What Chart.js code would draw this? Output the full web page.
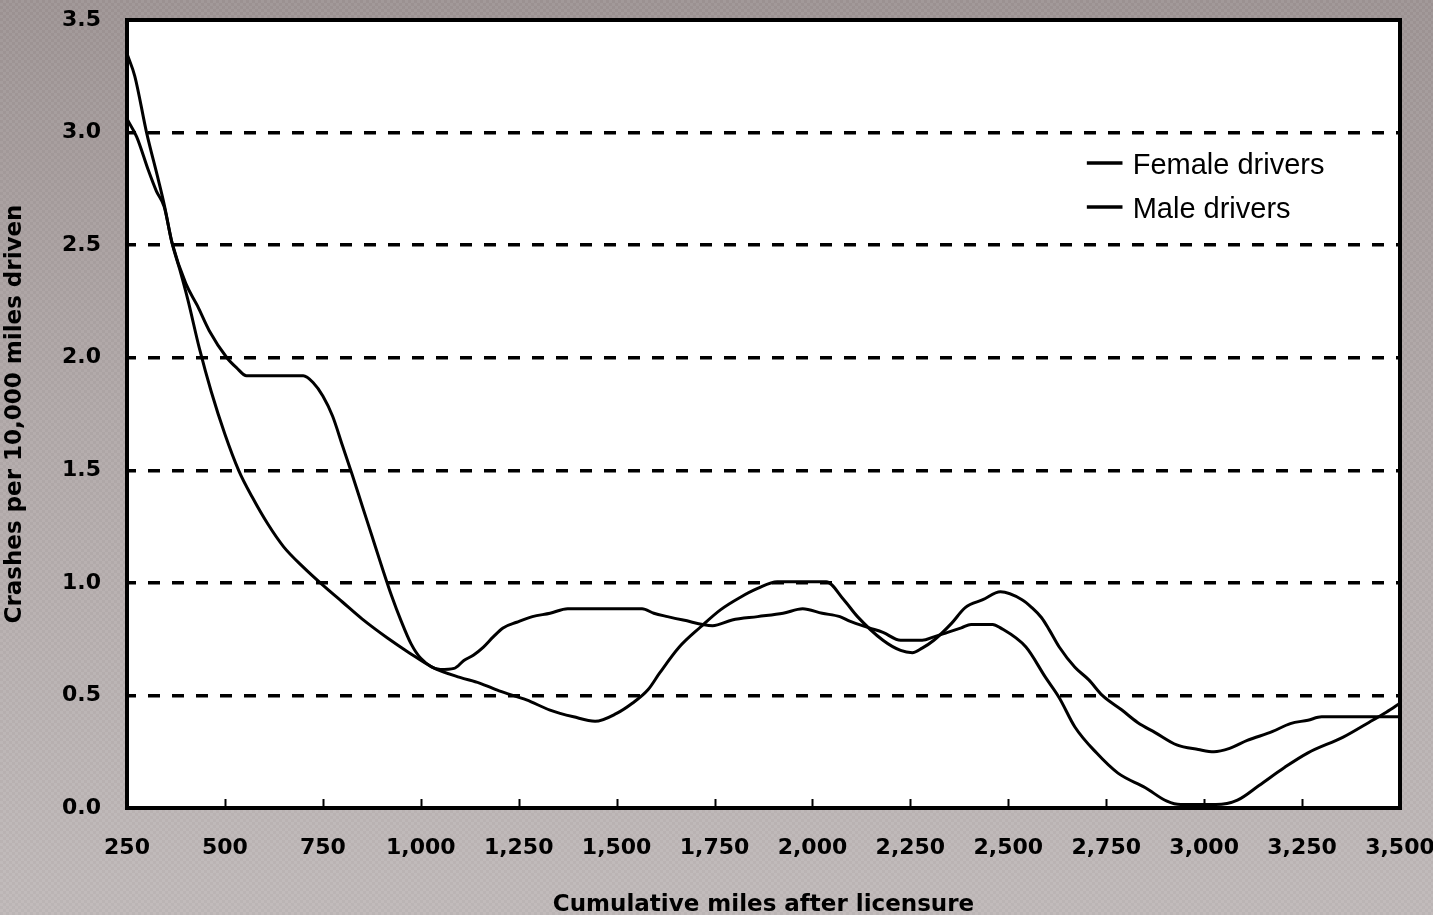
<!DOCTYPE html>
<html>
<head>
<meta charset="utf-8">
<script src="https://cdn.jsdelivr.net/npm/chart.js@4.4.1/dist/chart.umd.min.js"></script>
<style>
html,body{margin:0;padding:0;}
body{
  width:1433px;height:915px;overflow:hidden;
  background:
    repeating-conic-gradient(rgba(255,255,255,0.035) 0 25%, rgba(0,0,0,0.025) 0 50%) 0 0/6px 6px,
    linear-gradient(#9f9595 0%, #b1a9a9 45%, #c0b9b9 100%);
}
canvas{display:block;}
</style>
</head>
<body>
<canvas id="c" width="1433" height="915"></canvas>
<script>
// ---- data ----
const xTickLabels = ['250','500','750','1,000','1,250','1,500','1,750','2,000','2,250','2,500','2,750','3,000','3,250','3,500'];
const yTickLabels = ['0.0','0.5','1.0','1.5','2.0','2.5','3.0','3.5'];

const femaleLabel = 'Female drivers';
const femaleMiles = [250,270,300,330,345,365,385,405,435,465,500,535,570,610,650,700,750,800,850,915,970,1030,1100,1150,1200,1270,1330,1390,1445,1500,1540,1580,1610,1660,1715,1765,1815,1860,1910,2035,2080,2115,2180,2225,2255,2280,2310,2355,2390,2435,2480,2535,2560,2585,2605,2630,2670,2705,2740,2790,2830,2875,2930,2985,3025,3065,3110,3175,3220,3265,3300,3500];
const femaleRate  = [3.35,3.25,3.00,2.79,2.68,2.51,2.39,2.26,2.04,1.85,1.66,1.50,1.38,1.26,1.16,1.07,0.99,0.915,0.84,0.755,0.69,0.625,0.58,0.555,0.52,0.48,0.435,0.405,0.385,0.42,0.465,0.525,0.60,0.715,0.805,0.88,0.935,0.975,1.005,1.005,0.925,0.85,0.745,0.70,0.69,0.71,0.745,0.82,0.89,0.925,0.96,0.925,0.89,0.845,0.79,0.715,0.625,0.57,0.50,0.435,0.38,0.335,0.28,0.26,0.25,0.265,0.30,0.34,0.375,0.39,0.405,0.405];

const maleLabel = 'Male drivers';
const maleMiles = [250,275,305,325,345,365,400,430,460,505,530,555,700,725,750,775,800,825,850,875,900,925,950,975,1000,1050,1085,1110,1135,1160,1185,1210,1245,1285,1330,1375,1565,1595,1630,1670,1745,1795,1860,1925,1975,2025,2070,2095,2145,2180,2225,2280,2310,2345,2380,2405,2460,2480,2545,2595,2630,2670,2725,2780,2850,2905,2940,3030,3085,3140,3205,3265,3355,3430,3465,3500];
const maleRate  = [3.06,2.98,2.83,2.74,2.67,2.51,2.33,2.23,2.12,2.00,1.955,1.92,1.92,1.89,1.83,1.74,1.61,1.48,1.345,1.21,1.075,0.945,0.83,0.73,0.665,0.615,0.62,0.655,0.68,0.715,0.76,0.80,0.825,0.85,0.865,0.885,0.885,0.865,0.85,0.835,0.81,0.835,0.85,0.865,0.885,0.865,0.85,0.83,0.80,0.78,0.745,0.745,0.76,0.78,0.80,0.815,0.815,0.80,0.715,0.58,0.49,0.36,0.245,0.155,0.09,0.03,0.015,0.015,0.035,0.10,0.18,0.245,0.315,0.39,0.425,0.465];

const xTitle = 'Cumulative miles after licensure';
const yTitle = 'Crashes per 10,000 miles driven';

// ---- chart ----
const toPoints = (xs, ys) => xs.map((x, i) => ({x, y: ys[i]}));

const framePlugin = {
  id: 'frame',
  beforeDraw(chart) {
    const {ctx, chartArea: a} = chart;
    ctx.save();
    ctx.fillStyle = '#ffffff';
    ctx.fillRect(a.left, a.top, a.right - a.left, a.bottom - a.top);
    ctx.restore();
  },
  afterDraw(chart) {
    const {ctx, chartArea: a, scales: {x}} = chart;
    const w = a.right - a.left, h = a.bottom - a.top;
    ctx.save();
    ctx.strokeStyle = '#000';
    ctx.lineWidth = 2;
    x.ticks.forEach(t => {
      const px = Math.round(x.getPixelForValue(t.value)) + 0.5;
      ctx.beginPath();
      ctx.moveTo(px, a.bottom);
      ctx.lineTo(px, a.bottom - 9);
      ctx.stroke();
    });
    ctx.lineWidth = 4;
    ctx.strokeRect(a.left, a.top, w, h);
    const lx = a.left + w * 0.754;
    const ll = w * 0.028;
    const tx = a.left + w * 0.790;
    const rows = [0.1815, 0.2373];
    ctx.font = '29px "Liberation Sans", Arial, sans-serif';
    ctx.fillStyle = '#000';
    ctx.textBaseline = 'middle';
    ctx.textAlign = 'left';
    chart.data.datasets.forEach((ds, i) => {
      const ly = a.top + h * rows[i];
      ctx.lineWidth = 3.5;
      ctx.beginPath();
      ctx.moveTo(lx, ly);
      ctx.lineTo(lx + ll, ly);
      ctx.stroke();
      ctx.fillText(ds.label, tx, ly + 3);
    });
    ctx.restore();
  }
};

new Chart(document.getElementById('c'), {
  type: 'line',
  data: {
    datasets: [
      {label: femaleLabel, data: toPoints(femaleMiles, femaleRate)},
      {label: maleLabel, data: toPoints(maleMiles, maleRate)}
    ]
  },
  options: {
    responsive: false,
    animation: false,
    events: [],
    layout: {padding: {left: 0, top: 20, right: 33, bottom: 0}},
    elements: {
      point: {radius: 0},
      line: {borderColor: '#000', borderWidth: 3, cubicInterpolationMode: 'monotone', fill: false}
    },
    plugins: {legend: {display: false}, tooltip: {enabled: false}},
    scales: {
      x: {
        type: 'linear',
        min: 250, max: 3500,
        grid: {display: false, drawTicks: false},
        border: {display: false},
        ticks: {
          stepSize: 250,
          autoSkip: false,
          maxRotation: 0,
          padding: 27,
          color: '#000',
          font: {family: '"DejaVu Sans", sans-serif', size: 22, weight: 'bold'},
          callback: (v, i) => xTickLabels[i]
        },
        title: {
          display: true, text: xTitle, color: '#000',
          font: {family: '"DejaVu Sans", sans-serif', size: 23, weight: 'bold', lineHeight: 0.9},
          padding: {top: 0, bottom: 0}
        },
        afterFit: s => { s.height = 107; s.paddingLeft = 0; s.paddingRight = 0; }
      },
      y: {
        min: 0, max: 3.5,
        grid: {
          drawTicks: false,
          color: c => (c.tick && (c.tick.value === 0 || c.tick.value === 3.5)) ? 'rgba(0,0,0,0)' : '#000',
          lineWidth: 3.5
        },
        border: {display: false, dash: [12, 12], dashOffset: 3},
        ticks: {
          stepSize: 0.5,
          padding: 26,
          color: '#000',
          font: {family: '"DejaVu Sans", sans-serif', size: 22, weight: 'bold'},
          callback: (v, i) => yTickLabels[i]
        },
        title: {
          display: true, text: yTitle, color: '#000',
          font: {family: '"DejaVu Sans", sans-serif', size: 23, weight: 'bold'},
          padding: {top: 1, bottom: 0}
        },
        afterFit: s => { s.width = 127; s.paddingTop = 0; s.paddingBottom = 0; }
      }
    }
  },
  plugins: [framePlugin]
});
</script>
</body>
</html>
